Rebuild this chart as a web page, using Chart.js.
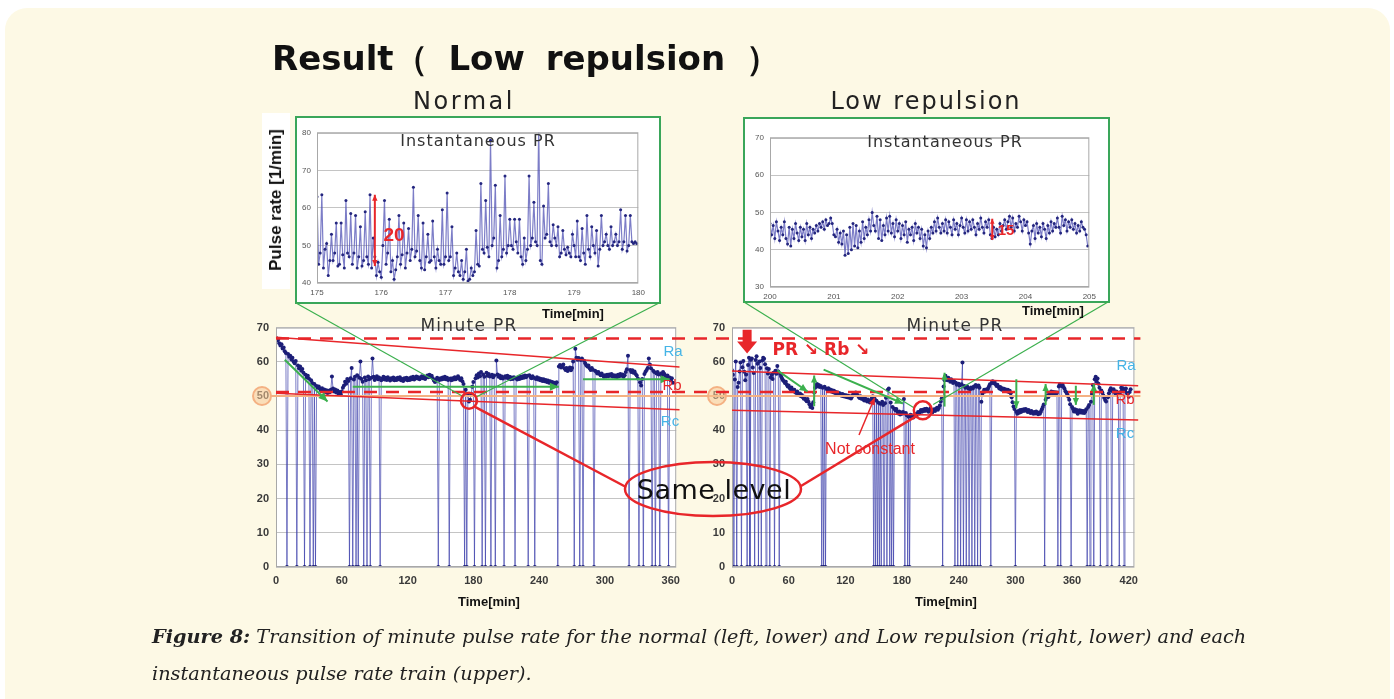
<!DOCTYPE html>
<html>
<head>
<meta charset="utf-8">
<script src="https://cdn.jsdelivr.net/npm/chart.js@4.4.0/dist/chart.umd.min.js"></script>
<style>
body{margin:0;width:1394px;height:699px;overflow:hidden;background:#fff;position:relative;font-family:'Liberation Sans',Arial,sans-serif}
#bg{position:absolute;left:5px;top:8px;width:1385px;height:730px;border-radius:22px;background:#fdf9e5}
canvas{position:absolute}
.box{position:absolute;border:2.5px solid #3aa65a;background:#fff;box-sizing:border-box}
.t{position:absolute;white-space:nowrap;transform:translate(-50%,-50%)}
.dv{font-family:'DejaVu Sans',sans-serif}
.tm{font-family:'Liberation Sans',Arial,sans-serif;font-weight:bold;font-size:13px;color:#111}
.rl{font-family:'Liberation Sans',Arial,sans-serif;font-size:15px}
</style>
</head>
<body>
<div id="bg"></div>

<div class="box" style="left:295px;top:116px;width:366px;height:188px"></div>
<div class="box" style="left:743px;top:117px;width:367px;height:186px"></div>
<div style="position:absolute;left:262px;top:113px;width:28px;height:176px;background:#fff"></div>

<canvas id="instL" width="355" height="175" style="left:295px;top:122px"></canvas>
<canvas id="instR" width="353" height="174" style="left:748px;top:127px"></canvas>
<canvas id="mainL" width="441" height="275" style="left:246px;top:314px"></canvas>
<canvas id="mainR" width="443" height="275" style="left:702px;top:314px"></canvas>
<canvas id="ov" width="1394" height="699" style="left:0;top:0"></canvas>

<div class="t dv" style="left:272px;top:59px;transform:translateY(-50%);font-size:34px;font-weight:bold;word-spacing:9px;color:#111">Result（ Low repulsion ）</div>
<div class="t dv" style="left:464px;top:101px;font-size:24px;letter-spacing:2.5px;color:#222">Normal</div>
<div class="t dv" style="left:926px;top:101px;font-size:24px;letter-spacing:2px;color:#222">Low repulsion</div>

<div class="t" style="left:276px;top:200px;transform:translate(-50%,-50%) rotate(-90deg);font-size:17px;font-weight:bold;color:#111">Pulse rate [1/min]</div>

<div class="t dv" style="left:478px;top:140px;font-size:16px;letter-spacing:1px;color:#333">Instantaneous PR</div>
<div class="t dv" style="left:945px;top:141px;font-size:16px;letter-spacing:1px;color:#333">Instantaneous PR</div>
<div class="t" style="left:394px;top:235px;font-size:19px;font-weight:bold;color:#e8262a">20</div>
<div class="t" style="left:1006px;top:229px;font-size:15px;font-weight:bold;color:#e8262a">15</div>
<div class="t tm" style="left:573px;top:313px">Time[min]</div>
<div class="t tm" style="left:1053px;top:310px">Time[min]</div>

<div class="t dv" style="left:469px;top:325px;font-size:17px;letter-spacing:1.3px;color:#333">Minute PR</div>
<div class="t dv" style="left:955px;top:325px;font-size:17px;letter-spacing:1.3px;color:#333">Minute PR</div>
<div class="t tm" style="left:489px;top:601px">Time[min]</div>
<div class="t tm" style="left:946px;top:601px">Time[min]</div>

<div class="t rl" style="left:673px;top:350px;color:#45b4e6">Ra</div>
<div class="t rl" style="left:672px;top:384px;color:#e8262a">Rb</div>
<div class="t rl" style="left:670px;top:420px;color:#45b4e6">Rc</div>
<div class="t rl" style="left:1126px;top:364px;color:#45b4e6">Ra</div>
<div class="t rl" style="left:1125px;top:398px;color:#e8262a">Rb</div>
<div class="t rl" style="left:1125px;top:432px;color:#45b4e6">Rc</div>

<div class="t" style="left:821px;top:349px;font-family:'DejaVu Sans',sans-serif;font-size:17px;font-weight:bold;color:#e8262a">PR ↘ Rb ↘</div>
<div class="t" style="left:870px;top:449px;font-size:16px;color:#e8262a">Not constant</div>
<div class="t dv" style="left:714px;top:489px;font-size:27px;letter-spacing:0.5px;color:#111">Same level</div>

<div style="position:absolute;left:152px;top:618px;font-family:'DejaVu Serif',serif;font-style:italic;font-size:19.3px;line-height:37px;color:#222;white-space:nowrap">
<b>Figure 8:</b> Transition of minute pulse rate for the normal (left, lower) and Low repulsion (right, lower) and each<br>instantaneous pulse rate train (upper).
</div>

<script>
// minute pulse rate, one value per minute from 0 (0 = no beat detected in that minute)
const leftMinutePR = [
67,66.2,66.5,65.4,64.8,65.1,63.9,64.2,63.1,62.6,
0,62.3,61.5,61.8,60.7,61.2,60.1,59.6,60.2,0,
58.9,58.1,58.6,57.4,57.9,56.8,0,56.2,55.4,55.9,
55.1,0,54.6,53.8,0,53.5,0,52.9,52.4,52.8,
52.1,51.6,52.3,51.4,51.9,51.2,51.7,50.9,51.5,51.1,
51.8,55.7,52.2,51.3,51.9,51.0,51.6,50.7,51.2,50.5,
51.3,52.4,53.1,54.2,53.6,55.0,54.4,0,55.2,58.2,
0,54.8,55.6,0,56.1,0,55.3,60.1,55.0,54.2,
0,55.4,54.6,0,55.7,54.9,0,55.3,61.0,55.6,
54.7,55.2,55.8,54.9,55.4,0,54.6,55.1,55.6,54.8,
55.3,54.7,55.5,55.0,54.5,55.2,54.8,55.4,54.6,55.1,
54.7,55.3,54.9,55.5,54.6,55.0,54.4,55.2,54.8,55.3,
54.6,55.1,54.7,55.4,54.9,55.6,54.8,55.2,55.7,55.1,
55.5,54.9,55.3,55.8,55.2,55.6,55.0,55.4,56.0,55.5,
56.2,55.6,55.9,55.2,54.5,54.1,54.8,55.3,0,54.7,
55.2,54.8,55.4,55.0,55.6,54.9,55.3,54.7,0,55.1,
54.6,55.2,54.8,55.5,54.9,55.3,55.8,55.1,54.7,55.2,
54.3,53.5,0,51.8,0,50.2,48.4,48.9,50.6,52.7,
54.1,0,55.2,56.1,55.4,56.6,55.8,57.0,0,56.3,
55.6,0,56.8,55.9,56.4,55.7,0,56.2,55.5,56.0,
0,60.4,56.3,55.6,56.0,55.2,55.7,55.1,0,55.8,
55.3,55.9,55.2,55.6,54.9,55.4,55.0,55.5,0,55.2,
54.8,55.4,55.0,55.6,55.2,55.8,55.3,56.0,55.5,55.9,
0,56.1,55.6,55.2,55.8,55.3,0,55.0,55.5,54.8,
55.2,54.6,55.0,54.4,54.9,54.3,54.7,54.1,54.5,53.9,
54.3,53.7,54.1,53.5,53.9,53.3,54.0,0,58.6,59.1,
58.3,58.8,59.2,58.1,57.6,58.2,57.3,57.8,58.3,57.5,
58.2,60.1,0,63.8,61.2,60.6,61.1,0,60.5,61.0,
0,60.3,59.6,59.0,58.6,58.9,58.1,57.6,58.2,57.7,
0,57.4,57.1,56.6,57.0,56.5,56.1,56.6,56.0,55.6,
56.1,55.7,56.2,55.8,56.3,55.9,56.4,55.7,56.1,55.6,
56.0,55.5,56.2,55.8,56.4,55.9,56.3,55.6,56.1,57.0,
57.8,61.8,0,57.6,57.0,57.5,56.8,57.2,56.4,56.0,
55.1,0,54.0,53.1,55.0,0,56.4,57.1,57.6,58.2,
61.0,59.2,58.1,0,57.4,57.0,0,56.6,57.0,56.3,
0,56.6,56.1,57.0,56.5,56.0,55.5,56.0,0,55.4,
54.6,55.2,53.9];

const rightMinutePR = [
57.5,56.2,0,54.8,60.1,0,52.6,53.9,57.2,59.8,
0,58.4,60.2,57.1,54.6,56.3,0,59.1,61.2,0,
60.6,61.0,58.3,56.7,0,60.5,61.6,59.4,0,60.1,
58.2,0,60.4,61.2,60.9,59.3,0,58.1,56.6,57.9,
0,55.4,56.2,55.0,56.8,0,57.4,56.5,58.8,57.2,
0,56.4,55.7,55.1,54.6,54.3,53.8,54.2,53.3,52.8,
53.1,52.4,52.0,52.5,51.7,51.4,51.8,51.1,50.9,51.3,
50.6,50.2,50.7,49.9,50.3,49.6,49.2,49.8,48.9,48.5,
49.1,48.3,47.6,46.8,47.4,46.5,48.2,51.0,52.4,53.1,
53.5,52.8,53.2,52.6,52.9,0,52.4,0,52.7,0,
52.1,51.8,52.3,51.5,51.9,51.3,51.7,51.1,51.5,50.9,
51.2,50.6,51.0,50.4,50.8,50.5,50.1,50.6,49.9,50.3,
49.8,50.2,49.6,50.1,49.5,49.9,49.3,49.8,50.4,50.9,
50.5,51.0,50.6,50.2,49.8,49.4,49.9,49.2,49.6,49.0,
48.7,49.3,48.8,48.4,49.0,48.5,48.1,48.7,49.4,49.9,
0,49.2,0,48.6,0,48.0,0,47.7,0,48.3,
47.4,0,47.9,49.5,0,51.8,52.2,0,48.1,0,
46.8,0,46.3,45.8,46.2,45.4,44.9,45.5,44.6,45.2,
44.8,45.3,49.1,0,45.0,44.4,0,43.9,0,44.5,
43.8,44.3,43.7,44.2,44.7,44.1,44.8,45.3,44.9,45.5,
45.9,45.4,46.0,45.6,46.2,45.7,46.3,45.8,45.4,45.9,
46.4,45.8,45.2,45.7,46.1,45.6,46.2,46.6,46.0,46.5,
47.2,48.4,49.3,0,52.8,54.6,55.9,55.2,54.6,55.3,
54.8,54.2,54.9,54.3,53.8,54.4,0,53.9,53.3,0,
53.6,53.1,0,53.4,59.8,0,52.9,52.4,0,52.8,
52.3,0,51.9,52.5,0,52.2,52.8,0,53.2,52.7,
0,53.1,52.4,0,48.3,50.6,51.2,51.8,51.3,51.9,
51.5,52.2,52.8,53.4,0,53.9,54.3,53.7,54.1,53.4,
52.9,53.3,52.7,52.2,52.6,51.9,52.3,51.7,52.1,51.6,
51.9,51.4,51.8,51.2,51.5,50.8,49.6,48.2,46.9,46.2,
0,45.4,44.8,45.6,45.1,45.9,45.3,46.0,45.6,46.1,
45.7,46.2,45.8,45.3,45.9,45.4,45.0,45.6,45.2,44.8,
45.3,44.9,45.5,45.1,44.7,45.2,44.8,45.4,46.1,46.8,
47.5,0,48.9,49.6,50.2,49.7,50.4,50.9,51.3,50.8,
51.2,50.7,51.1,50.6,51.0,0,52.8,53.4,0,52.9,
53.3,52.6,52.1,51.4,51.0,50.5,49.8,48.9,47.6,0,
46.8,46.2,45.5,46.1,45.4,45.9,44.8,45.3,45.8,45.2,
45.7,45.1,45.6,45.0,45.5,46.1,0,46.8,47.4,0,
48.3,50.6,53.2,0,54.9,55.6,54.2,55.1,53.6,52.4,
0,51.6,51.0,50.2,49.5,48.8,48.4,0,49.6,50.8,
51.7,52.3,0,51.4,52.0,51.2,50.6,51.3,50.7,50.2,
0,51.1,52.4,51.8,52.3,0,51.6,52.2,50.9,50.3,
49.8,51.2,52.0];

// instantaneous pulse rate, one beat sample every 0.025 min
const leftInstStart = 175;
const leftInstPR = [
63,45,48, 63.5,44,49, 50.5,42,46, 53,46,48, 56,44.5,45, 56,47.5,44, 62,48,47, 58.5,45,48,
58,44,47, 55,44.5,46, 59,47,45, 63.5,44,52, 47,42,45.5, 43,41.5,50, 62,45,48, 57,43,46,
41,43.5,47, 58,45,47.5, 56,44,48, 54.5,46,49, 65.5,47,48.5, 58,46,44, 56,43.5,47, 53,45.5,46,
56.5,47,44, 49,46,45, 59.5,45,47, 64,46,47, 55,42,44, 48,43,42, 46,41,43, 49,40.5,41,
44,42,43, 54,45,44.5, 66.5,49,48, 62,49.5,47, 78,50,52, 66,44,46, 58,47,49, 68.5,48,50,
57,50,49, 57,51,48, 57,47,45, 52,46,49, 68.5,50,52, 61.5,51,50, 82,46,45, 60.5,52,53,
66.5,51,50, 55.5,52,50, 55,47,48, 54,49,47.5, 49.5,48,47, 53,50,47, 56.5,47,46, 54.5,48,45,
58,49,47, 55,50,48, 54,44.5,49, 58,50,51, 53,50,49, 55,50,51, 53,50,51, 59.5,49,51,
58,48.5,50, 58,51,50.5, 51,50.5];

const rightInstStart = 200;
const rightInstPR = [
47,44,46.5,43,47.5,45,42.5,46,44,47.5,43,41.5,46,41,45.5,43,47,44.5,42.5,46,
43.5,45.5,42.5,47,44,46,43,45.5,44.5,46.5,45,47,46,47.5,45.5,48,46.5,47,48.5,47,
44,43.5,45.5,42,44.5,41.5,45,38.5,44,39,46,40,47,41,46.5,40.5,45,42,47.5,43,
46,44,48,45,50,46.5,45,49,43,48,42.5,46.5,44,48.5,45,49,44.5,47,43.5,48,
45,47,43,46.5,44,47.5,42,45.5,44,46,42.5,47,44.5,46,43,45.5,41,44,40.5,45,
43,46,44.5,47.5,45,48.5,46,44.5,47,45,48,44.5,47.5,46,44,48,45.5,47,44,46.5,
48.5,46,44.5,48,45,47.5,45.5,48,46,44,47,45.5,48.5,46,44.5,47.5,46,48,44,43,
46,43.5,45.5,44,47,45,46.5,48,45.5,47.5,49,46,48.5,45,47,46,49,47.5,45,48,
46.5,47.5,44.5,41.5,45,46.5,43,47,44.5,46,43.5,47,45.5,43,46.5,44.5,47.5,45,47,46,
48.5,46,44.5,49,46.5,48,45,47.5,46,48,45.5,47,44.5,46.5,45,47.5,46,45.5,44,41];
const instStep = 0.025;

// tick labels
const mainYTicks = [0, 10, 20, 30, 40, 50, 60, 70];
const leftXTicks = [0, 60, 120, 180, 240, 300, 360];
const rightXTicks = [0, 60, 120, 180, 240, 300, 360, 420];
const leftInstXTicks = [175, 176, 177, 178, 179, 180];
const leftInstYTicks = [40, 50, 60, 70, 80];
const rightInstXTicks = [200, 201, 202, 203, 204, 205];
const rightInstYTicks = [30, 40, 50, 60, 70];

Chart.defaults.font.family = "'Liberation Sans', Arial, sans-serif";

const framePlugin = {
  id: 'frame',
  beforeDraw(chart) {
    const a = chart.chartArea, c = chart.ctx;
    c.save();
    c.fillStyle = '#fff';
    c.fillRect(a.left, a.top, a.right - a.left, a.bottom - a.top);
    c.restore();
  },
  afterDraw(chart) {
    const a = chart.chartArea, c = chart.ctx;
    c.save();
    c.strokeStyle = '#a8a8a8';
    c.lineWidth = 1;
    c.strokeRect(a.left + 0.5, a.top + 0.5, a.right - a.left - 1, a.bottom - a.top - 1);
    c.restore();
  }
};

function makeChart(id, values, x0, dx, xTicks, yTicks, xr, yr, o) {
  const data = values.map((v, i) => ({ x: x0 + i * dx, y: v }));
  const tickFont = { size: o.fs, weight: o.fw };
  return new Chart(document.getElementById(id), {
    type: 'line',
    data: {
      datasets: [{
        data: data,
        borderColor: o.line,
        borderWidth: o.lw,
        pointRadius: o.pr,
        pointBackgroundColor: o.pt,
        pointBorderWidth: 0,
        tension: 0
      }]
    },
    options: {
      animation: false,
      responsive: false,
      events: [],
      layout: { padding: o.pad },
      plugins: { legend: { display: false }, tooltip: { enabled: false } },
      scales: {
        x: {
          type: 'linear', min: xr[0], max: xr[1],
          afterBuildTicks: s => { s.ticks = xTicks.map(v => ({ value: v })); },
          ticks: { color: o.tc, font: tickFont, maxRotation: 0, padding: o.xp, autoSkip: false },
          grid: { display: false, drawTicks: false },
          border: { display: false },
          afterFit: s => { s.height = o.xh; }
        },
        y: {
          min: yr[0], max: yr[1],
          afterBuildTicks: s => { s.ticks = yTicks.map(v => ({ value: v })); },
          ticks: { color: o.tc, font: tickFont, padding: o.yp },
          grid: { color: '#c4c4c4', drawTicks: false },
          border: { display: false },
          afterFit: s => { s.width = o.yw; }
        }
      }
    },
    plugins: [framePlugin]
  });
}

const mainOpts = { line: 'rgba(58,60,170,0.68)', lw: 1, pt: '#1c1e78', pr: 2, fs: 11, fw: 'bold', tc: '#3a3a3a',
  pad: { top: 6, right: 6, left: 0, bottom: 0 }, xp: 7, yp: 7, xh: 22, yw: 30 };
const instOpts = { line: 'rgba(80,82,180,0.75)', lw: 1.2, pt: '#24267f', pr: 1.5, fs: 8, fw: 'normal', tc: '#555',
  pad: { top: 5, right: 8, left: 0, bottom: 0 }, xp: 5, yp: 6, xh: 14, yw: 22 };

const chL = makeChart('mainL', leftMinutePR, 0, 1, leftXTicks, mainYTicks, [0, 365], [0, 70], mainOpts);
const chR = makeChart('mainR', rightMinutePR, 0, 1, rightXTicks, mainYTicks, [0, 426], [0, 70], mainOpts);
const inL = makeChart('instL', leftInstPR, leftInstStart, instStep, leftInstXTicks, leftInstYTicks, [175, 180], [40, 80], instOpts);
const inR = makeChart('instR', rightInstPR, rightInstStart, instStep, rightInstXTicks, rightInstYTicks, [200, 205], [30, 70], instOpts);

// annotations, positioned through each chart's scales
const ov = document.getElementById('ov').getContext('2d');
function P(ch, x, y) {
  const c = ch.canvas;
  return [c.offsetLeft + ch.scales.x.getPixelForValue(x), c.offsetTop + ch.scales.y.getPixelForValue(y)];
}
function seg(a, b, color, w, dash) {
  ov.save();
  ov.strokeStyle = color; ov.lineWidth = w; ov.setLineDash(dash || []);
  ov.beginPath(); ov.moveTo(a[0], a[1]); ov.lineTo(b[0], b[1]); ov.stroke();
  ov.restore();
}
function head(a, b, color, len) {
  const ang = Math.atan2(b[1] - a[1], b[0] - a[0]);
  ov.save();
  ov.fillStyle = color;
  ov.beginPath();
  ov.moveTo(b[0], b[1]);
  ov.lineTo(b[0] - len * Math.cos(ang) + len * 0.45 * Math.sin(ang), b[1] - len * Math.sin(ang) - len * 0.45 * Math.cos(ang));
  ov.lineTo(b[0] - len * Math.cos(ang) - len * 0.45 * Math.sin(ang), b[1] - len * Math.sin(ang) + len * 0.45 * Math.cos(ang));
  ov.closePath(); ov.fill();
  ov.restore();
}
function arrow(a, b, color, w, len) { seg(a, b, color, w); head(a, b, color, len); }

const RED = '#e8262a', GREEN = '#3cb04e', ORANGE = '#f4b183';
const xEnd = P(chR, 426, 0)[0] + 6;

// orange reference at 50 and the circled "50" labels
seg([270, P(chL, 0, 50)[1]], [xEnd, P(chL, 0, 50)[1]], ORANGE, 2);
[[262, chL], [717, chR]].forEach(([x, ch]) => {
  ov.save();
  ov.beginPath(); ov.arc(x, P(ch, 0, 50)[1], 9, 0, Math.PI * 2);
  ov.fillStyle = 'rgba(248,200,150,0.55)'; ov.fill();
  ov.strokeStyle = ORANGE; ov.lineWidth = 2; ov.stroke();
  ov.restore();
});

// dashed levels across both panels
[66.8, 51.2].forEach(v => seg([P(chL, 0, v)[0], P(chL, 0, v)[1]], [xEnd, P(chL, 0, v)[1]], RED, 2.5, [13, 9]));

// regression-like red lines
seg(P(chL, 0, 67.2), P(chL, 368, 58.5), RED, 1.5);
seg(P(chL, 0, 50.8), P(chL, 368, 46), RED, 1.5);
seg(P(chR, 0, 57.3), P(chR, 430, 53), RED, 1.5);
seg(P(chR, 0, 45.8), P(chR, 430, 43), RED, 1.5);

// green trend arrows
arrow(P(chL, 8, 60.6), P(chL, 47, 48.4), GREEN, 2, 9);
arrow(P(chL, 70, 52.7), P(chL, 258, 52.7), GREEN, 2, 9);
arrow(P(chL, 280, 54.9), P(chL, 359, 54.9), GREEN, 2, 9);
arrow(P(chR, 48, 57.5), P(chR, 80, 51.3), GREEN, 2, 8);
arrow(P(chR, 97, 57.7), P(chR, 181, 47.8), GREEN, 2, 8);
[[87, 47, 56], [225, 46.9, 56.8], [301, 54.9, 46.4], [332, 47.4, 53.5], [364, 53, 47.4], [383, 47.4, 53.5]]
  .forEach(([m, a, b]) => arrow(P(chR, m, a), P(chR, m, b), GREEN, 2, 7));

// zoom connectors from insets to the circled minutes
seg([296, 303], P(chL, 171, 49.8), GREEN, 1.2);
seg(P(chL, 183, 49.8), [659, 303], GREEN, 1.2);
seg([744, 302], P(chR, 193, 46.5), GREEN, 1.2);
seg(P(chR, 213, 47.5), [1108, 302], GREEN, 1.2);

// circles and "Same level" ellipse
const cL = P(chL, 176, 48.6), cR = P(chR, 202, 45.8);
ov.save();
ov.strokeStyle = RED; ov.lineWidth = 2.5;
ov.beginPath(); ov.arc(cL[0], cL[1], 8, 0, Math.PI * 2); ov.stroke();
ov.beginPath(); ov.arc(cR[0], cR[1], 9, 0, Math.PI * 2); ov.stroke();
ov.beginPath(); ov.ellipse(713, 489, 88, 27, 0, 0, Math.PI * 2); ov.stroke();
ov.restore();
seg([cL[0] + 6, cL[1] + 6], [626, 487], RED, 2.5);
seg([801, 486], [cR[0] - 7, cR[1] + 6], RED, 2.5);

// "Not constant" pointer
arrow([859, 435], P(chR, 151, 49.5), RED, 1.5, 7);

// big red down arrow at the start of low repulsion
(function () {
  const t = P(chR, 16, 69.4), b = P(chR, 16, 62.4);
  const x = t[0], hy = b[1] - 12;
  ov.save(); ov.fillStyle = RED;
  ov.beginPath();
  ov.moveTo(x - 4.5, t[1]); ov.lineTo(x + 4.5, t[1]); ov.lineTo(x + 4.5, hy);
  ov.lineTo(x + 10, hy); ov.lineTo(x, b[1]); ov.lineTo(x - 10, hy); ov.lineTo(x - 4.5, hy);
  ov.closePath(); ov.fill(); ov.restore();
})();

// inset spread markers
const a1 = P(inL, 175.9, 44.5), a2 = P(inL, 175.9, 63.5);
seg(a1, a2, RED, 2);
head(a2, a1, RED, 6); head(a1, a2, RED, 6);
const b1 = P(inR, 203.48, 42.6), b2 = P(inR, 203.48, 48.3);
seg(b1, b2, RED, 2);
head(b2, b1, RED, 5); head(b1, b2, RED, 5);
</script>
</body>
</html>
